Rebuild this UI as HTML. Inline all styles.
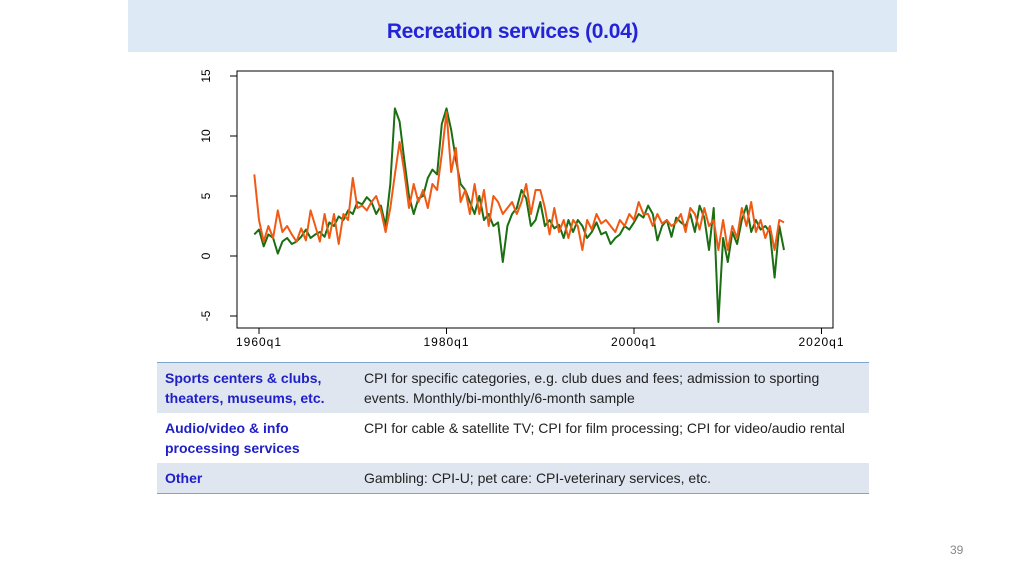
<!DOCTYPE html>
<html><head><meta charset="utf-8"><style>
body{margin:0;width:1024px;height:576px;background:#fff;position:relative;overflow:hidden;font-family:"Liberation Sans",sans-serif}
#hdr{position:absolute;left:128px;top:0;width:769px;height:52px;background:#dde9f5}
#title{position:absolute;left:128px;width:769px;top:20px;text-align:center;font-size:21px;font-weight:bold;color:#2323d8;letter-spacing:-0.3px}
table{position:absolute;left:157px;top:362px;width:712px;border-collapse:collapse;font-size:14px;border-top:1.5px solid #7fa3cf;border-bottom:1.5px solid #7fa3cf}
td{vertical-align:top;padding:5px 8px;line-height:20px}
tr.s{background:#dfe6f0}
td.k{color:#2020c8;font-weight:bold;width:183px}
td.v{color:#222}
#pg{position:absolute;left:950px;top:543px;font-size:12px;color:#888}
</style></head><body>
<div id="hdr"></div>
<div id="title">Recreation services (0.04)</div>
<svg id="chart" width="1024" height="576" style="position:absolute;left:0;top:0"></svg>
<table>
<tr class="s" style="height:49px"><td class="k">Sports centers &amp; clubs, theaters, museums, etc.</td><td class="v">CPI for specific categories, e.g. club dues and fees; admission to sporting events. Monthly/bi-monthly/6-month sample</td></tr>
<tr style="height:48px"><td class="k">Audio/video &amp; info processing services</td><td class="v">CPI for cable &amp; satellite TV; CPI for film processing; CPI for video/audio rental</td></tr>
<tr class="s"><td class="k">Other</td><td class="v">Gambling: CPI-U; pet care: CPI-veterinary services, etc.</td></tr>
</table>
<div id="pg">39</div>
<script>
const startYear = 1959.5;
const stepYear = 0.5;
const greenSeries = [1.8,
2.2,0.8,1.8,1.5,0.2,1.2,1.5,1.0,1.2,1.6,2.2,1.5,1.8,2.0,1.6,2.8,2.5,3.3,3.0,3.8,
3.5,4.5,4.3,4.9,4.5,3.5,4.2,2.5,6.0,12.3,11.2,8.0,5.0,3.5,4.8,5.0,6.5,7.2,6.8,11.0,
12.3,10.5,8.0,6.0,5.5,4.5,3.5,5.0,3.0,3.5,2.5,2.8,-0.5,2.5,3.5,4.0,5.5,4.8,2.5,3.0,
4.5,2.5,3.0,2.3,2.6,1.5,3.0,2.0,3.0,2.5,1.5,2.0,2.8,1.8,2.0,1.0,1.5,1.8,2.5,2.2,
2.8,3.5,3.2,4.2,3.5,1.3,2.5,3.0,1.6,3.2,2.8,2.5,3.5,2.0,4.2,3.2,0.5,4.0,-5.5,1.5,
-0.5,2.0,1.0,3.0,4.2,2.0,3.0,2.2,2.5,2.0,-1.8,2.5,
0.5];
const orangeSeries = [6.8,
3.0,1.2,2.5,1.5,3.8,2.0,2.5,1.8,1.2,2.3,1.3,3.8,2.5,1.2,3.5,1.5,3.5,1.0,3.5,3.0,
6.5,4.0,4.2,3.8,4.5,5.0,3.8,2.0,4.0,6.8,9.5,7.0,4.0,6.0,4.5,5.5,4.0,6.0,5.5,8.5,
12.0,7.0,9.0,4.5,5.5,3.5,6.0,3.5,5.5,2.5,5.0,4.5,3.5,4.0,4.5,3.5,4.5,6.0,3.5,5.5,
5.5,4.0,1.8,4.0,2.0,3.0,1.5,3.0,2.5,0.5,3.0,2.2,3.5,2.7,3.0,2.5,2.0,3.0,2.5,3.5,
3.0,4.5,3.5,3.5,2.5,3.5,2.7,3.0,2.5,2.8,3.5,2.0,4.0,3.5,2.2,4.0,2.5,3.0,0.5,3.0,
0.5,2.5,1.5,4.0,2.5,4.5,2.0,3.0,1.5,2.5,0.5,3.0,
2.8];
const yTicks = [-5,0,5,10,15];
const xTicks = [1960,1980,2000,2020];
const xTickLabels = ["1960q1","1980q1","2000q1","2020q1"];

const svg = document.getElementById('chart');
const NS = 'http://www.w3.org/2000/svg';
const X = y => 259 + (y - 1960) * 9.375;
const Y = v => 256 - v * 12;
function mk(t, a){const e=document.createElementNS(NS,t);for(const k in a)e.setAttribute(k,a[k]);svg.appendChild(e);return e;}
const frame = mk('rect',{x:237,y:71,width:596,height:257,fill:'none',stroke:'#000','stroke-width':1});


yTicks.forEach(v=>{
  const l = mk('line',{x1:230,x2:237,y1:Y(v),y2:Y(v),stroke:'#000'});
  
  
  const t = mk('text',{x:0,y:0,transform:`translate(210,${Y(v)}) rotate(-90)`,'text-anchor':'middle','font-size':12,fill:'#000'});
  t.textContent = v;
  
  
});
xTicks.forEach((v,i)=>{
  const l = mk('line',{x1:X(v),x2:X(v),y1:328,y2:334,stroke:'#000'});
  
  
  const t = mk('text',{x:X(v),y:346,'text-anchor':'middle','font-size':12,fill:'#000','letter-spacing':'1'});
  t.textContent = xTickLabels[i];
  
  
});
function line(arr,color,name){
  const pts = arr.map((v,i)=>X(startYear+i*stepYear).toFixed(1)+','+Y(v).toFixed(1)).join(' ');
  const p = mk('polyline',{points:pts,fill:'none',stroke:color,'stroke-width':2,'stroke-linejoin':'round'});
  
  
}
line(greenSeries,'#1b6e12','series-green');
line(orangeSeries,'#f05a14','series-orange');
</script>
</body></html>
